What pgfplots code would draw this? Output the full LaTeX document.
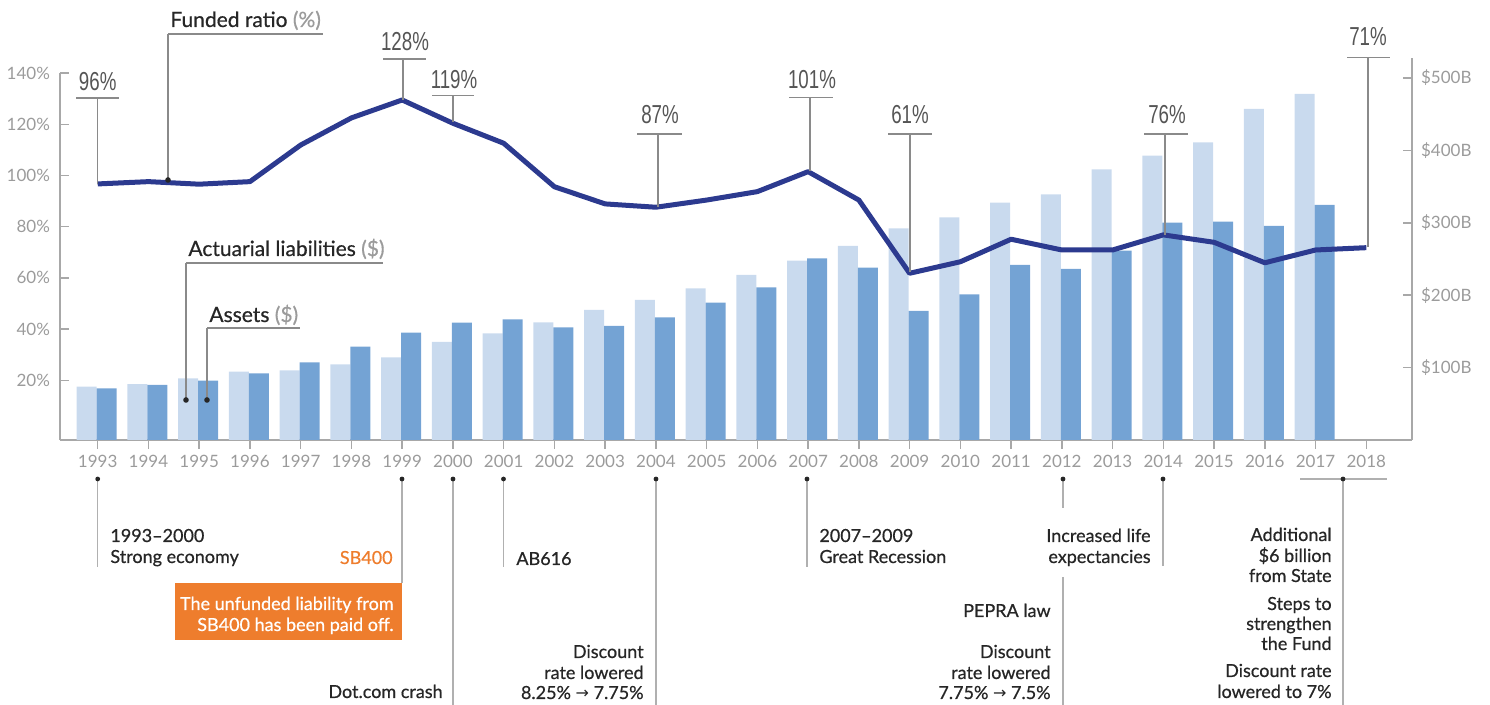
\documentclass[border=0pt]{standalone}
\usepackage{fontspec}
\setmainfont{Lato}
\newfontfamily\condfont[FakeStretch=0.72]{Liberation Sans}
\newfontfamily\medfont[FakeBold=0.6]{Lato}
\newfontfamily\djv{DejaVu Sans}
\usepackage{pgfplots}
\pgfplotsset{compat=1.18}
\definecolor{liab}{HTML}{C9DAEE}
\definecolor{assets}{HTML}{74A3D4}
\definecolor{navy}{HTML}{2C3A8F}
\definecolor{axgray}{HTML}{A8A8A8}
\definecolor{tickgray}{HTML}{9B9B9B}
\definecolor{lead}{HTML}{8A8A8A}
\definecolor{leadlight}{HTML}{B0B0B0}
\definecolor{valgray}{HTML}{555555}
\definecolor{txt}{HTML}{262626}
\definecolor{orng}{HTML}{EE7D2D}
\newcommand{\af}{\medfont\fontsize{9}{11}\selectfont}
\newcommand{\arr}{{\djv\fontsize{8}{9}\selectfont →}}
\begin{document}
\begin{tikzpicture}
\path[use as bounding box] (0,0) rectangle (745pt,352.5pt);
% dollar axis with bars
\begin{axis}[at={(30pt,132.5pt)}, anchor=south west, scale only axis,
  width=676pt, height=191pt,
  xmin=1992.257, xmax=2018.90, ymin=0, ymax=527.6,
  axis x line*=bottom, axis y line*=right,
  axis line style={axgray, line width=0.75pt},
  tick align=inside, major tick length=4.5pt,
  every tick/.style={axgray, line width=0.75pt},
  x tick style={yshift=-4.5pt},
  xtick={1993,1994,1995,1996,1997,1998,1999,2000,2001,2002,2003,2004,2005,2006,2007,2008,2009,2010,2011,2012,2013,2014,2015,2016,2017,2018},
  xticklabels={1993,1994,1995,1996,1997,1998,1999,2000,2001,2002,2003,2004,2005,2006,2007,2008,2009,2010,2011,2012,2013,2014,2015,2016,2017,2018},
  ytick={100,200,300,400,500},
  yticklabels={\$100B,\$200B,\$300B,\$400B,\$500B},
  tick label style={font=\fontsize{8.5}{10}\selectfont, text=tickgray},
  xticklabel style={yshift=-4pt},
  yticklabel style={xshift=1pt},
  clip=false]
\addplot[ybar, bar width=10pt, bar shift=-5.5pt, fill=liab, draw=none] coordinates {
(1993,73.6) (1994,77.3) (1995,85.2) (1996,94.3) (1997,96.3) (1998,104.6) (1999,114.2) (2000,135.4)
(2001,147.4) (2002,162.6) (2003,179.6) (2004,193.4) (2005,209.5) (2006,227.9) (2007,247.7) (2008,268.0)
(2009,292.4) (2010,307.6) (2011,327.8) (2012,339.4) (2013,373.9) (2014,392.7) (2015,411.2) (2016,457.2) (2017,477.9)};
\addplot[ybar, bar width=10pt, bar shift=4.5pt, fill=assets, draw=none] coordinates {
(1993,71.4) (1994,76.0) (1995,81.9) (1996,92.1) (1997,107.3) (1998,128.9) (1999,148.2) (2000,162.0)
(2001,166.7) (2002,155.7) (2003,157.5) (2004,169.5) (2005,189.6) (2006,210.9) (2007,251.0) (2008,238.0)
(2009,178.2) (2010,201.2) (2011,241.7) (2012,236.2) (2013,261.5) (2014,300.1) (2015,301.5) (2016,295.6) (2017,324.6)};
\end{axis}
% percent axis with funded ratio
\begin{axis}[at={(30pt,132.5pt)}, anchor=south west, scale only axis,
  width=676pt, height=183.45pt,
  xmin=1992.257, xmax=2018.90, ymin=-3.32, ymax=140,
  axis y line*=left, axis x line=none,
  axis line style={axgray, line width=0.75pt},
  tick align=inside, major tick length=4.5pt,
  every tick/.style={axgray, line width=0.75pt},
  ytick={20,40,60,80,100,120,140},
  yticklabels={20\%,40\%,60\%,80\%,100\%,120\%,140\%},
  tick label style={font=\fontsize{8.5}{10}\selectfont, text=tickgray},
  yticklabel style={xshift=-1.5pt},
  clip=false]
\addplot[navy, line width=2.5pt, line join=round] coordinates {
(1993,96.7) (1994,97.6) (1995,96.6) (1996,97.6) (1997,111.9) (1998,122.5) (1999,129.5) (2000,120.4)
(2001,112.6) (2002,95.6) (2003,88.9) (2004,87.6) (2005,90.4) (2006,93.7) (2007,101.5) (2008,90.4)
(2009,61.8) (2010,66.3) (2011,75.1) (2012,70.9) (2013,70.9) (2014,76.8) (2015,73.9) (2016,65.9)
(2017,70.9) (2018,71.8)};
\end{axis}
% annotations in pixel coordinates
\begin{scope}[shift={(0pt,352.5pt)}, x=0.5pt, y=-0.5pt]
\tikzset{val/.style={font=\condfont\fontsize{13}{15}\selectfont, text=valgray},
  ld/.style={lead, line width=0.6pt},
  ll/.style={leadlight, line width=0.6pt},
  bt/.style={font=\af, text=txt}}
% top value labels
\node[val] at (97.7,82) {96\%};
\draw[ld] (76,98) -- (119,98) (97.7,98) -- (97.7,184);
\node[val] at (405,42) {128\%};
\draw[ld] (383,59) -- (426,59) (403,59) -- (403,100);
\node[val] at (454,80) {119\%};
\draw[ld] (432,95.7) -- (474,95.7) (453,95.7) -- (453,122);
\node[val] at (660,115) {87\%};
\draw[ld] (637,134) -- (682,134) (658,134) -- (658,207);
\node[val] at (812,80) {101\%};
\draw[ld] (789,97.7) -- (833,97.7) (810,97.7) -- (810,171);
\node[val] at (910,115) {61\%};
\draw[ld] (888,134) -- (932,134) (910,134) -- (910,272);
\node[val] at (1167,115) {76\%};
\draw[ld] (1144,134) -- (1188,134) (1165,134) -- (1165,235);
\node[val] at (1368,37) {71\%};
\draw[ld] (1347,57.7) -- (1390,57.7) (1368,57.7) -- (1368,247);
% series labels
\node[anchor=base west, font=\medfont\fontsize{10.5}{12}\selectfont, text=txt, inner sep=0pt] at (170,27) {Funded ratio \textcolor{tickgray}{(\%)}};
\draw[ld] (168,34) -- (323,34) (168,34) -- (168,180);
\fill[txt] (168,180) circle[radius=1.4pt];
\node[anchor=base west, font=\medfont\fontsize{10.5}{12}\selectfont, text=txt, inner sep=0pt] at (188,256) {Actuarial liabilities \textcolor{tickgray}{(\$)}};
\draw[ld] (186,263) -- (383,263) (186,263) -- (186,400);
\fill[txt] (186,400) circle[radius=1.4pt];
\node[anchor=base west, font=\medfont\fontsize{10.5}{12}\selectfont, text=txt, inner sep=0pt] at (209,322) {Assets \textcolor{tickgray}{(\$)}};
\draw[ld] (207,328) -- (300,328) (207,328) -- (207,400);
\fill[txt] (207,400) circle[radius=1.4pt];
% bottom leader lines
\draw[ll] (97.7,479) -- (97.7,567);
\draw[ll] (402,479) -- (402,583);
\draw[ll] (453,479) -- (453,705);
\draw[ll] (503.5,479) -- (503.5,567);
\draw[ll] (656,479) -- (656,705);
\draw[ll] (807,479) -- (807,567);
\draw[ll] (1063,479) -- (1063,508) (1063,577) -- (1063,705);
\draw[ll] (1163,479) -- (1163,566);
\draw[ll] (1300,479) -- (1387,479) (1343,479) -- (1343,705);
\foreach \xx in {97.7,402,453,503.5,656,807,1063,1163,1343}
  \fill[txt] (\xx,479) circle[radius=1.2pt];
% bottom texts
\node[bt, anchor=base west, inner sep=0pt] at (110,542) {1993–2000};
\node[bt, anchor=base west, inner sep=0pt] at (110,563) {Strong economy};
\node[font=\af, text=orng, anchor=base east, inner sep=0pt] at (393,564) {SB400};
\fill[orng] (175,583) rectangle (402,640);
\node[font=\af, text=white, anchor=base east, inner sep=0pt] at (394,610) {The unfunded liability from};
\node[font=\af, text=white, anchor=base east, inner sep=0pt] at (394,631) {SB400 has been paid off.};
\node[bt, anchor=base east, inner sep=0pt] at (443,698) {Dot.com crash};
\node[bt, anchor=base west, inner sep=0pt] at (516,565) {AB616};
\node[bt, anchor=base east, inner sep=0pt] at (644,658) {Discount};
\node[bt, anchor=base east, inner sep=0pt] at (644,679) {rate lowered};
\node[bt, anchor=base east, inner sep=0pt] at (644,699) {8.25\% \arr{} 7.75\%};
\node[bt, anchor=base west, inner sep=0pt] at (819,542) {2007–2009};
\node[bt, anchor=base west, inner sep=0pt] at (819,563) {Great Recession};
\node[bt, anchor=base east, inner sep=0pt] at (1151,542) {Increased life};
\node[bt, anchor=base east, inner sep=0pt] at (1151,563) {expectancies};
\node[bt, anchor=base east, inner sep=0pt] at (1051,617) {PEPRA law};
\node[bt, anchor=base east, inner sep=0pt] at (1051,658) {Discount};
\node[bt, anchor=base east, inner sep=0pt] at (1051,679) {rate lowered};
\node[bt, anchor=base east, inner sep=0pt] at (1051,699) {7.75\% \arr{} 7.5\%};
\node[bt, anchor=base east, inner sep=0pt] at (1332,541) {Additional};
\node[bt, anchor=base east, inner sep=0pt] at (1332,562) {\$6 billion};
\node[bt, anchor=base east, inner sep=0pt] at (1332,582) {from State};
\node[bt, anchor=base east, inner sep=0pt] at (1332,610) {Steps to};
\node[bt, anchor=base east, inner sep=0pt] at (1332,630) {strengthen};
\node[bt, anchor=base east, inner sep=0pt] at (1332,650) {the Fund};
\node[bt, anchor=base east, inner sep=0pt] at (1332,677) {Discount rate};
\node[bt, anchor=base east, inner sep=0pt] at (1332,698) {lowered to 7\%};
\end{scope}
\end{tikzpicture}
\end{document}
